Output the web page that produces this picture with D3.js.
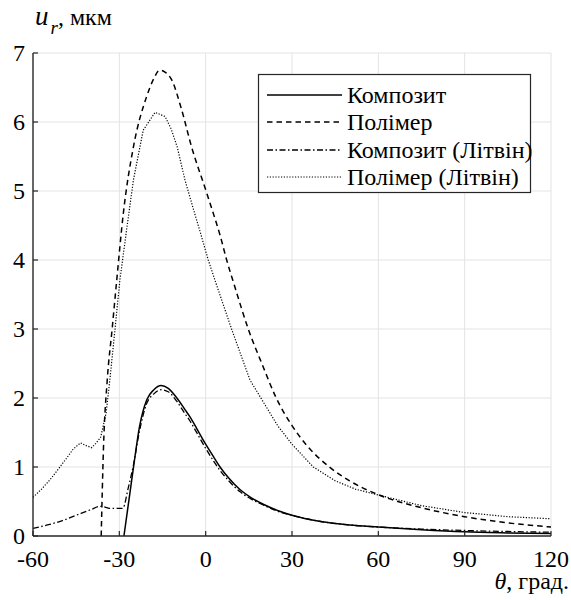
<!DOCTYPE html>
<html>
<head>
<meta charset="utf-8">
<script src="https://cdn.jsdelivr.net/npm/d3@7"></script>
<style>
  html, body { margin: 0; padding: 0; background: #fff; }
  svg { display: block; }
</style>
</head>
<body>
<svg id="chart" width="571" height="600"></svg>
<script>
// ---- Data ----
const xTicks = [-60, -30, 0, 30, 60, 90, 120];
const yTicks = [0, 1, 2, 3, 4, 5, 6, 7];

const seriesNames = ["Композит", "Полімер", "Композит (Літвін)", "Полімер (Літвін)"];

// Композит (solid)
const compTheta = [-28.4, -26, -25, -23, -20.5, -18, -15.5, -13, -10, -7, -5.5, -3, 0, 3, 5, 8, 12, 16, 20, 25, 30, 40, 50, 60, 75, 90, 105, 120];
const compU     = [0, 0.72, 1.02, 1.58, 1.97, 2.12, 2.18, 2.14, 2.0, 1.82, 1.73, 1.55, 1.33, 1.13, 1.0, 0.84, 0.67, 0.55, 0.46, 0.37, 0.30, 0.21, 0.16, 0.13, 0.09, 0.06, 0.045, 0.035];

// Полімер (dashed)
const polyTheta = [-36.3, -35.5, -34.2, -32.5, -30.9, -28.6, -25.1, -20.5, -18, -16, -14, -11.8, -8.5, -4.9, 0.3, 2, 5, 7.3, 10, 14.8, 20, 24.3, 30, 35, 43, 50, 60.5, 75, 90, 105, 120];
const polyU     = [0, 1.29, 2.26, 3.0, 3.71, 4.68, 5.64, 6.37, 6.63, 6.75, 6.72, 6.61, 6.2, 5.64, 4.98, 4.76, 4.36, 4.0, 3.63, 3.0, 2.45, 2.02, 1.6, 1.32, 1.0, 0.8, 0.59, 0.41, 0.28, 0.19, 0.13];

// Композит (Літвін) (dash-dot)
const compLTheta = [-60, -55, -50, -45, -40, -36.5, -35, -33.5, -29, -28.6, -27, -25, -23, -20.5, -18, -15.5, -13, -10, -7, -5.5, -3, 0, 3, 5, 8, 12, 16, 20, 25, 30, 40, 50, 60, 75, 90, 105, 120];
const compLU     = [0.11, 0.16, 0.22, 0.30, 0.38, 0.43, 0.42, 0.40, 0.40, 0.41, 0.68, 1.05, 1.52, 1.92, 2.06, 2.12, 2.09, 1.95, 1.76, 1.67, 1.49, 1.27, 1.07, 0.95, 0.80, 0.64, 0.53, 0.45, 0.36, 0.30, 0.21, 0.16, 0.13, 0.10, 0.08, 0.065, 0.055];

// Полімер (Літвін) (dotted)
const polyLTheta = [-60, -57, -54, -51, -48.3, -46, -43.5, -41.5, -39.6, -38, -36.5, -34.6, -33.3, -31.5, -29.8, -27.5, -25.1, -21.7, -17.6, -14.1, -12, -9.9, -7.2, -4, -2, 0, 0.9, 3.2, 9, 15.4, 18.9, 25, 30, 37.4, 45, 52, 59.4, 75, 90, 105, 120];
const polyLU     = [0.56, 0.68, 0.82, 0.98, 1.13, 1.26, 1.35, 1.31, 1.28, 1.35, 1.43, 1.78, 2.26, 3.0, 3.71, 4.43, 5.16, 5.88, 6.14, 6.08, 5.9, 5.64, 5.16, 4.7, 4.42, 4.13, 4.0, 3.71, 3.0, 2.26, 2.02, 1.6, 1.33, 1.0, 0.8, 0.68, 0.6, 0.44, 0.34, 0.28, 0.25];

// ---- Layout ----
const W = 571, H = 600;
const margin = { left: 33, right: 20, top: 53, bottom: 64 };
const svg = d3.select("#chart");

const xs = d3.scaleLinear().domain([-60, 120]).range([margin.left, W - margin.right]);
const ys = d3.scaleLinear().domain([0, 7]).range([H - margin.bottom, margin.top]);

const axisColor = "#262626";
const gridColor = "#e3e3e3";

function serifText(x0, y0, size, str) {
  return svg.append("text").attr("x", x0).attr("y", y0)
    .style("font-family", '"Liberation Serif"').attr("font-size", size).text(str);
}

const grid = svg.append("g");
const plot = svg.append("g");
const axes = svg.append("g");
const lg = svg.append("g");

// Tick labels and legend texts
xTicks.forEach(t => serifText(xs(t), ys(0) + 31, 24, String(t)).attr("text-anchor", "middle"));
yTicks.forEach(t => serifText(xs(-60) - 8, ys(t) + 8, 24, String(t)).attr("text-anchor", "end"));

const legY = [95, 122, 150, 177];
seriesNames.forEach((n, i) => serifText(347, legY[i] + 8, 24, n));

// Axis titles
const yl = serifText(35, 25, 24, null);
yl.append("tspan").style("font-style", "italic").attr("font-size", 27).text("u");
yl.append("tspan").style("font-style", "italic").attr("font-size", 19).attr("dx", 2).attr("dy", 9).text("r");
yl.append("tspan").attr("dy", -9).text(", мкм");

const xl = serifText(569, 589, 24, null).attr("text-anchor", "end");
xl.append("tspan").style("font-style", "italic").text("θ");
xl.append("tspan").text(", град.");

// Grid
grid.selectAll("line.vx").data(xTicks.slice(1)).join("line")
  .attr("x1", d => xs(d)).attr("x2", d => xs(d))
  .attr("y1", ys(0)).attr("y2", ys(7))
  .attr("stroke", gridColor).attr("stroke-width", 1);
grid.selectAll("line.hy").data(yTicks.slice(1)).join("line")
  .attr("x1", xs(-60)).attr("x2", xs(120))
  .attr("y1", d => ys(d)).attr("y2", d => ys(d))
  .attr("stroke", gridColor).attr("stroke-width", 1);

// Axes lines and inward ticks
axes.append("line").attr("x1", xs(-60)).attr("x2", xs(120)).attr("y1", ys(0)).attr("y2", ys(0))
  .attr("stroke", axisColor).attr("stroke-width", 1.4);
axes.append("line").attr("x1", xs(-60)).attr("x2", xs(-60)).attr("y1", ys(0)).attr("y2", ys(7))
  .attr("stroke", axisColor).attr("stroke-width", 1.4);
axes.selectAll("line.tx").data(xTicks).join("line")
  .attr("x1", d => xs(d)).attr("x2", d => xs(d)).attr("y1", ys(0)).attr("y2", ys(0) - 5)
  .attr("stroke", axisColor).attr("stroke-width", 1.2);
axes.selectAll("line.ty").data(yTicks).join("line")
  .attr("x1", xs(-60)).attr("x2", xs(-60) + 5).attr("y1", d => ys(d)).attr("y2", d => ys(d))
  .attr("stroke", axisColor).attr("stroke-width", 1.2);

// Series
const series = [
  { th: compTheta,  u: compU,  dash: null,            width: 1.5, curve: d3.curveMonotoneX },
  { th: polyTheta,  u: polyU,  dash: "5.5,4",         width: 1.5, curve: d3.curveMonotoneX },
  { th: compLTheta, u: compLU, dash: "6,2.5,1.5,2.5", width: 1.3, curve: d3.curveMonotoneX },
  { th: polyLTheta, u: polyLU, dash: "1.2,1.6",       width: 1.2, curve: d3.curveLinear }
];
series.forEach(s => {
  const pts = s.th.map((t, i) => [t, s.u[i]]);
  const line = d3.line().x(d => xs(d[0])).y(d => ys(d[1])).curve(s.curve);
  plot.append("path")
    .attr("d", line(pts))
    .attr("fill", "none")
    .attr("stroke", "#000")
    .attr("stroke-width", s.width)
    .attr("stroke-dasharray", s.dash);
});

// Legend box and samples
lg.append("rect")
  .attr("x", 258.5).attr("y", 74.5).attr("width", 272).attr("height", 118)
  .attr("fill", "#fff").attr("stroke", axisColor).attr("stroke-width", 1.2);
series.forEach((s, i) => {
  lg.append("line")
    .attr("x1", 267).attr("x2", 342)
    .attr("y1", legY[i]).attr("y2", legY[i])
    .attr("stroke", "#000").attr("stroke-width", s.width)
    .attr("stroke-dasharray", s.dash);
});
</script>
</body>
</html>
